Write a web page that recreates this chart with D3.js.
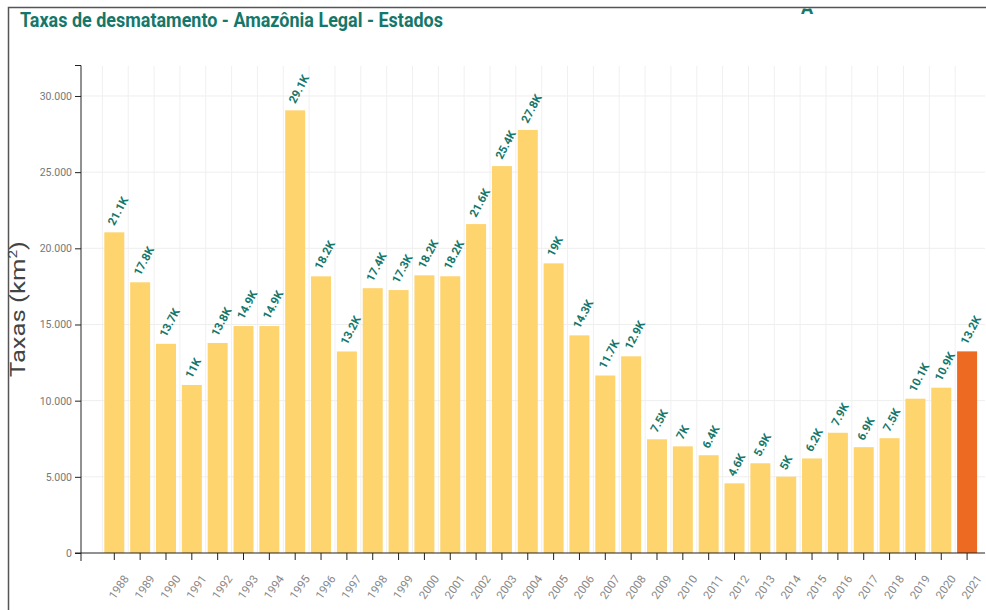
<!DOCTYPE html>
<html>
<head>
<meta charset="utf-8">
<script src="https://cdn.jsdelivr.net/npm/d3@7"></script>
<style>
  body { margin: 0; background: #fff; }
  svg { display: block; }
</style>
</head>
<body>
<div id="chart"></div>
<script>
const years = ["1988","1989","1990","1991","1992","1993","1994","1995","1996","1997","1998","1999","2000","2001","2002","2003","2004","2005","2006","2007","2008","2009","2010","2011","2012","2013","2014","2015","2016","2017","2018","2019","2020","2021"];
const taxas = [21050,17770,13730,11030,13786,14896,14896,29059,18161,13227,17383,17259,18226,18165,21590,25396,27772,19014,14286,11651,12911,7464,7000,6418,4571,5891,5012,6207,7893,6947,7536,10129,10851,13235];
const yTicks = [0, 5000, 10000, 15000, 20000, 25000, 30000];

const width = 986, height = 610;
const green = "#15776a";

const svg = d3.select("#chart").append("svg")
    .attr("width", width)
    .attr("height", height);

// frame
svg.append("path")
    .attr("d", "M8.5,610 V7.5 H986")
    .attr("fill", "none")
    .attr("stroke", "#555")
    .attr("stroke-width", 1.5);

// cut-off glyph at the top
svg.append("clipPath").attr("id", "topclip")
  .append("rect").attr("x", 780).attr("y", 8.5).attr("width", 50).attr("height", 20);
svg.append("text")
    .attr("clip-path", "url(#topclip)")
    .attr("x", 807).attr("y", 14)
    .attr("text-anchor", "middle")
    .attr("font-family", "Roboto, sans-serif")
    .attr("font-weight", "bold")
    .attr("font-size", 18)
    .attr("fill", green)
    .text("A");

// title
svg.append("text")
    .attr("x", 20).attr("y", 27)
    .attr("font-family", "'Liberation Sans Narrow', Roboto, sans-serif")
    .attr("font-weight", "bold")
    .attr("font-size", 20)
    .attr("fill", green)
    .attr("textLength", 423)
    .attr("lengthAdjust", "spacingAndGlyphs")
    .text("Taxas de desmatamento - Amazônia Legal - Estados");

const y = d3.scaleLinear().domain([0, 32000]).range([553, 65.5]);
const x = d3.scaleBand().domain(years).range([104.3, 977.1]).paddingInner(0.226).paddingOuter(0);
const step = x.step();

// grid
svg.append("g").selectAll("line")
    .data(yTicks.slice(1))
    .enter().append("line")
    .attr("x1", 81).attr("x2", 985)
    .attr("y1", d => y(d)).attr("y2", d => y(d))
    .attr("stroke", "#eee");
svg.append("g").selectAll("line")
    .data(years)
    .enter().append("line")
    .attr("x1", d => x(d) - (step - x.bandwidth()) / 2 + 1)
    .attr("x2", d => x(d) - (step - x.bandwidth()) / 2 + 1)
    .attr("y1", 66).attr("y2", 553)
    .attr("stroke", "#f0f0f0");

// bars
svg.append("g").selectAll("rect")
    .data(years)
    .enter().append("rect")
    .attr("x", d => x(d))
    .attr("width", x.bandwidth())
    .attr("y", (d, i) => y(taxas[i]))
    .attr("height", (d, i) => y(0) - y(taxas[i]))
    .attr("fill", (d, i) => i === years.length - 1 ? "#ec6a21" : "#fed46f");

// value labels
function fmtK(v) {
  return (+(v / 1000).toFixed(1)) + "K";
}
svg.append("g").selectAll("text")
    .data(years)
    .enter().append("text")
    .attr("transform", (d, i) => "translate(" + (x(d) + x.bandwidth() / 2) + "," + (y(taxas[i]) - 6) + ") rotate(-62)")
    .attr("font-family", "Roboto, sans-serif")
    .attr("font-weight", "bold")
    .attr("font-size", 11.5)
    .attr("fill", green)
    .text((d, i) => fmtK(taxas[i]));

// y axis
const fmt = d3.formatLocale({decimal: ",", thousands: ".", grouping: [3], currency: ["", ""]}).format(",");
const yAxis = svg.append("g")
    .attr("transform", "translate(81,0)")
    .call(d3.axisLeft(y).tickValues(yTicks).tickFormat(fmt).tickSizeOuter(6).tickSize(6));
yAxis.select(".domain").attr("d", "M-6,65.5 H0 V561").attr("stroke", "#222");
yAxis.selectAll(".tick line").attr("stroke", "#222");
yAxis.selectAll("text")
    .attr("font-family", "Roboto, sans-serif")
    .attr("font-size", 10.5)
    .attr("fill", "#777");

// x axis
const xAxis = svg.append("g")
    .attr("transform", "translate(0,553)")
    .call(d3.axisBottom(x).tickSize(7));
xAxis.select(".domain").attr("d", "M75,0 H985").attr("stroke", "#222");
xAxis.selectAll(".tick line").attr("stroke", "#222");
xAxis.selectAll("text")
    .attr("font-family", "Roboto, sans-serif")
    .attr("font-size", 11.5)
    .attr("fill", "#888")
    .attr("text-anchor", "end")
    .attr("dy", 0)
    .attr("transform", "translate(7,20) rotate(-55)");

// y axis title
const yt = svg.append("text")
    .attr("transform", "translate(25,309) rotate(-90)")
    .attr("text-anchor", "middle")
    .attr("font-family", "Roboto, sans-serif")
    .attr("font-size", 20)
    .attr("fill", "#444")
    .attr("textLength", 136)
    .attr("lengthAdjust", "spacingAndGlyphs");
yt.append("tspan").text("Taxas (km");
yt.append("tspan").attr("font-size", 12).attr("dy", -8).text("2");
yt.append("tspan").attr("dy", 8).text(")");
</script>
</body>
</html>
